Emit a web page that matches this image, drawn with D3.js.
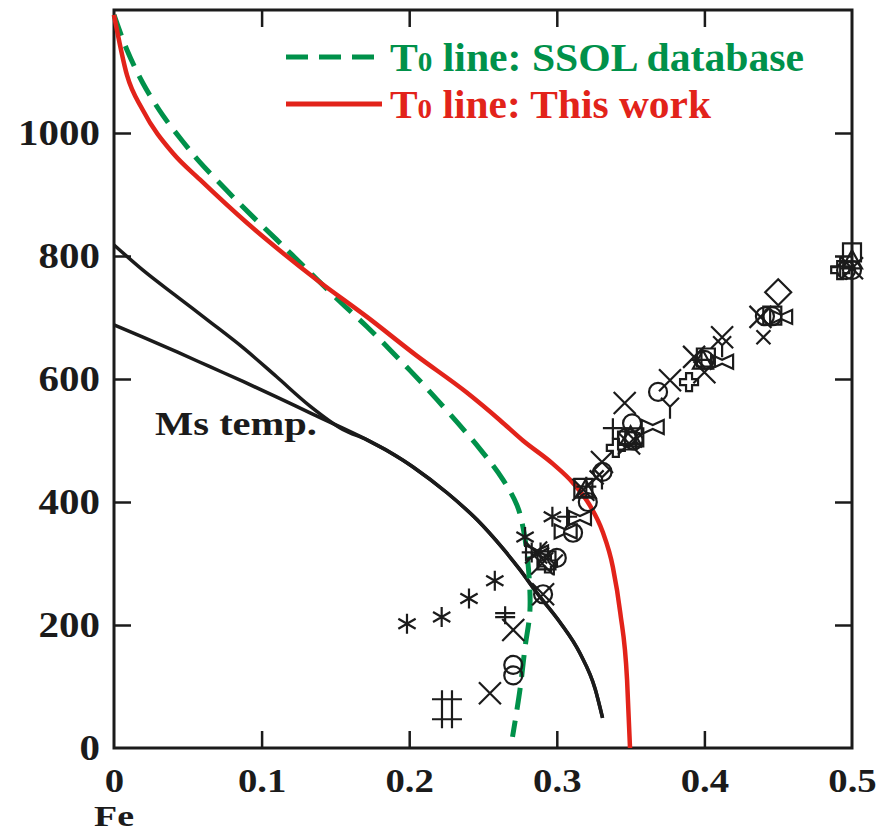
<!DOCTYPE html>
<html><head><meta charset="utf-8">
<script src="https://cdn.jsdelivr.net/npm/d3@7/dist/d3.min.js"></script>
<style>html,body{margin:0;padding:0;background:#fff;}svg{display:block;}</style>
</head><body>
<svg id="c" width="887" height="833"></svg>
<script>
// ---------- data ----------
const xTicks = [0, 0.1, 0.2, 0.3, 0.4, 0.5];
const yTicks = [0, 200, 400, 600, 800, 1000];
const legendLabels = ["line: SSOL database", "line: This work"];
const msLabel = "Ms temp.";
const xLabel = "Fe";

const t0SSOL = [[0,1192],[0.0088,1135],[0.0196,1081],[0.033,1029],[0.047,985],[0.058,953],[0.0766,906],[0.094,864],[0.110,827],[0.121,801],[0.153,726],[0.1714,685],[0.2005,614],[0.219,566],[0.248,486],[0.2636,436],[0.273,395],[0.277,360],[0.2805,300],[0.2818,224],[0.2785,164],[0.275,94],[0.270,18]];
const t0ThisWork = [[0,1192],[0.0088,1094],[0.0196,1037],[0.040,967],[0.0583,924],[0.090,854],[0.1037,826],[0.1375,761],[0.1714,701],[0.205,638],[0.239,578],[0.2615,533],[0.277,500],[0.2974,462],[0.311,431],[0.3225,394],[0.331,352],[0.338,294],[0.343,220],[0.3476,111],[0.3496,0]];
const msMerged = [[0.1714,501],[0.1958,468],[0.2026,457],[0.2256,415],[0.246,371],[0.2636,324],[0.275,290],[0.2866,252],[0.302,205],[0.3157,154],[0.326,96],[0.331,49]];
const msUpper = [[0,818],[0.0196,777],[0.0427,734],[0.065,693],[0.0874,651],[0.110,604],[0.1328,556],[0.155,518]];
const msLower = [[0,688],[0.0196,668],[0.0427,644],[0.065,620],[0.0874,596],[0.110,571],[0.1328,545],[0.155,520]];

const ptCircle = [[0.2705,135],[0.2705,118],[0.2907,250],[0.300,309],[0.311,350],[0.321,400],[0.331,449],[0.351,528],[0.3686,579],[0.400,631],[0.441,702],[0.446,702],[0.496,777],[0.5,777],[0.3476,505],[0.352,500]];
const ptCross = [[0.2705,192],[0.2547,89],[0.2907,250],[0.3306,465],[0.346,561],[0.3767,598],[0.393,636],[0.400,611],[0.412,668],[0.438,701],[0.29,300],[0.318,420],[0.349,495],[0.5,780],[0.286,318]];
const ptSmallCross = [[0.44,668],[0.327,440],[0.353,500]];
const ptPlus = [[0.307,376],[0.338,520],[0.283,318],[0.32,425],[0.398,631],[0.492,783]];
const ptStar = [[0.1985,202],[0.222,213],[0.2405,243],[0.258,272],[0.2785,343],[0.297,376],[0.289,318]];
const ptHash = [[0.2256,63]];
const ptDoublePlus = [[0.265,216]];
const ptSquare = [[0.318,423],[0.3476,500],[0.3525,505],[0.401,635],[0.5,806],[0.293,305],[0.446,703]];
const ptDiamond = [[0.45,741]];
const ptTriangle = [[0.5,793],[0.3195,420],[0.35,507],[0.399,630]];
const ptBowtie = [[0.2866,318],[0.3157,374],[0.365,522],[0.412,628],[0.452,701],[0.306,352]];
const ptThickCross = [[0.3896,595],[0.492,777],[0.34,488],[0.294,300]];
const ptY = [[0.3767,555],[0.412,655],[0.3306,440],[0.298,300]];

// ---------- layout ----------
const svg = d3.select("#c");
const x = d3.scaleLinear().domain([0, 0.5]).range([114, 852]);
const y = d3.scaleLinear().domain([0, 1200]).range([748, 10]);
const GREEN = "#00914a", RED = "#e2231a", BLACK = "#1b1b1b";
const FONT = "'Liberation Serif','Times New Roman',serif";

function stretch(sel, f) {
  sel.each(function () {
    const w = this.getComputedTextLength();
    d3.select(this).attr("textLength", w * f).attr("lengthAdjust", "spacingAndGlyphs");
  });
}

// axes (inward ticks)
const gB = svg.append("g").attr("transform", `translate(0,${y(0)})`)
  .call(d3.axisBottom(x).tickValues(xTicks).tickSize(-17).tickPadding(20).tickFormat(d3.format("")));
const gL = svg.append("g").attr("transform", `translate(${x(0)},0)`)
  .call(d3.axisLeft(y).tickValues(yTicks).tickSize(-17).tickPadding(14).tickFormat(d3.format("d")));
const gT = svg.append("g").attr("transform", `translate(0,${y(1200)})`)
  .call(d3.axisTop(x).tickValues(xTicks.slice(1, -1)).tickSize(-17).tickFormat(""));
const gR = svg.append("g").attr("transform", `translate(${x(0.5)},0)`)
  .call(d3.axisRight(y).tickValues(yTicks.slice(1)).tickSize(-17).tickFormat(""));
[gB, gL, gT, gR].forEach(g => {
  g.select(".domain").remove();
  g.selectAll(".tick line").attr("stroke", BLACK).attr("stroke-width", 2.5);
  g.selectAll("text").attr("font-family", FONT).attr("font-weight", "bold")
    .attr("font-size", 35).attr("fill", BLACK);
});
gB.selectAll("text").attr("font-size", 34);
gB.selectAll(".tick").filter(d => d === 0 || d === 0.5).select("line").remove();
gL.selectAll(".tick").filter(d => d === 0).select("line").remove();
stretch(gB.selectAll("text"), 1.14);
stretch(gL.selectAll("text"), 1.17);

// frame
svg.append("rect").attr("x", x(0)).attr("y", y(1200))
  .attr("width", x(0.5) - x(0)).attr("height", y(0) - y(1200))
  .attr("fill", "none").attr("stroke", BLACK).attr("stroke-width", 3);

// x label
const fe = svg.append("text").attr("x", x(0)).attr("y", 826).attr("text-anchor", "middle")
  .attr("font-family", FONT).attr("font-weight", "bold").attr("font-size", 29).attr("fill", BLACK).text(xLabel);
fe.attr("textLength", 40).attr("lengthAdjust", "spacingAndGlyphs");

// curves
const lineM = d3.line().x(d => x(d[0])).y(d => y(d[1])).curve(d3.curveMonotoneX);
const lineC = d3.line().x(d => x(d[0])).y(d => y(d[1])).curve(d3.curveCatmullRom.alpha(0.5));
const plot = svg.append("g");
plot.append("path").datum(msUpper.concat(msMerged)).attr("d", lineM)
  .attr("fill", "none").attr("stroke", BLACK).attr("stroke-width", 3.5).attr("stroke-linejoin", "round");
plot.append("path").datum(msLower.concat(msMerged)).attr("d", lineM)
  .attr("fill", "none").attr("stroke", BLACK).attr("stroke-width", 3.5).attr("stroke-linejoin", "round");
plot.append("path").datum(t0SSOL).attr("d", lineC)
  .attr("fill", "none").attr("stroke", GREEN).attr("stroke-width", 5).attr("stroke-dasharray", "22,11");
plot.append("path").datum(t0ThisWork).attr("d", lineM)
  .attr("fill", "none").attr("stroke", RED).attr("stroke-width", 4.5);

// markers
const shapes = {
  circle: () => "M9,0A9,9 0 1,1 -9,0A9,9 0 1,1 9,0Z",
  cross: () => "M-11,-11L11,11M-11,11L11,-11",
  smallCross: () => "M-7,-7L7,7M-7,7L7,-7",
  plus: () => "M-10,0L10,0M0,-10L0,10",
  star: () => { let p = ""; for (let i = 0; i < 3; i++) { const a = Math.PI / 2 + i * Math.PI / 3; const dx = 10 * Math.cos(a), dy = 10 * Math.sin(a); p += `M${-dx},${-dy}L${dx},${dy}`; } return p; },
  hash: () => "M-5,-19L-5,19M5,-19L5,19M-15,-10L15,-10M-15,10L15,10",
  doublePlus: () => "M0,-9L0,9M-10,-2L10,-2M-10,2L10,2",
  square: () => "M-9,-9L9,-9L9,9L-9,9Z",
  diamond: () => "M0,-13L13,0L0,13L-13,0Z",
  triangle: () => "M0,-10L10,8L-10,8Z",
  bowtie: () => "M-11,-7L-11,7L0,2L11,7L11,-7L0,-2Z",
  thickCross: () => "M-3,-9L3,-9L3,-3L9,-3L9,3L3,3L3,9L-3,9L-3,3L-9,3L-9,-3L-3,-3Z",
  yshape: () => "M0,0L-9,-9M0,0L9,-9M0,0L0,12"
};
const markerSets = [
  [ptCircle, "circle"], [ptCross, "cross"], [ptSmallCross, "smallCross"], [ptPlus, "plus"],
  [ptStar, "star"], [ptHash, "hash"], [ptDoublePlus, "doublePlus"], [ptSquare, "square"],
  [ptDiamond, "diamond"], [ptTriangle, "triangle"], [ptBowtie, "bowtie"],
  [ptThickCross, "thickCross"], [ptY, "yshape"]
];
const mg = svg.append("g");
markerSets.forEach(([pts, kind]) => {
  mg.selectAll(null).data(pts).join("path")
    .attr("transform", d => `translate(${x(d[0])},${y(d[1])})`)
    .attr("d", shapes[kind]())
    .attr("fill", "none").attr("stroke", BLACK).attr("stroke-width", 2.2);
});

// Ms label
const ms = svg.append("text").attr("x", 155).attr("y", 435)
  .attr("font-family", FONT).attr("font-weight", "bold").attr("font-size", 33).attr("fill", BLACK).text(msLabel);
ms.attr("textLength", 162).attr("lengthAdjust", "spacingAndGlyphs");

// legend
const legend = svg.append("g");
const legendColors = [GREEN, RED];
const legendY = [57, 104];
const legendW = [414, 321];
legendLabels.forEach((lab, i) => {
  legend.append("line").attr("x1", 286).attr("x2", i === 0 ? 377 : 382)
    .attr("y1", legendY[i]).attr("y2", legendY[i])
    .attr("stroke", legendColors[i]).attr("stroke-width", 5)
    .attr("stroke-dasharray", i === 0 ? "22,11" : null);
  const t = legend.append("text").attr("x", 390).attr("y", legendY[i] + 14)
    .attr("font-family", FONT).attr("font-weight", "bold").attr("font-size", 40)
    .attr("fill", legendColors[i]).attr("textLength", legendW[i]).attr("lengthAdjust", "spacingAndGlyphs");
  t.append("tspan").text("T");
  t.append("tspan").attr("font-size", 28).text("0");
  t.append("tspan").text(" " + lab);
});
</script>
</body></html>
